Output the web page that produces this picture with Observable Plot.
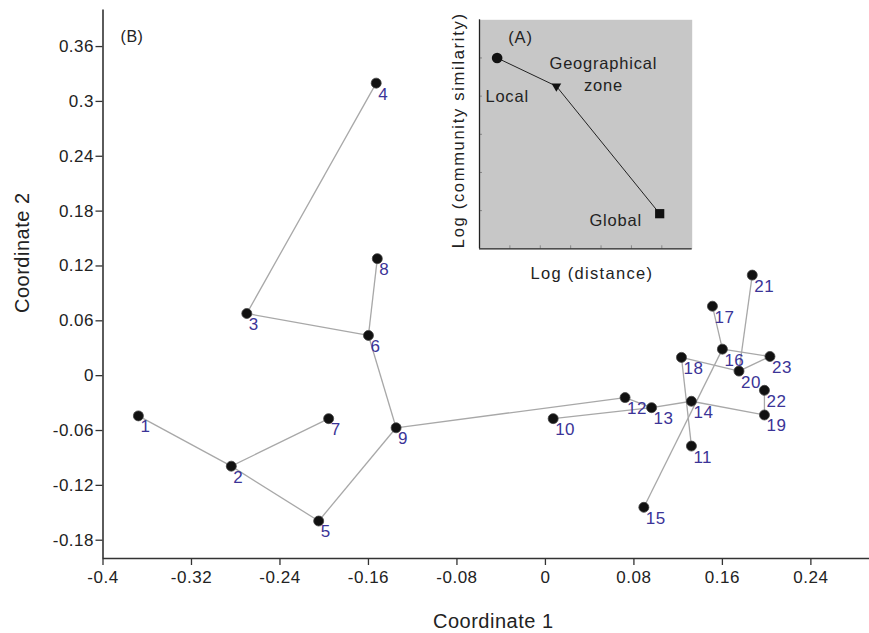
<!DOCTYPE html>
<html>
<head>
<meta charset="utf-8">
<script src="https://cdn.jsdelivr.net/npm/d3@7"></script>
<script src="https://cdn.jsdelivr.net/npm/@observablehq/plot@0.6"></script>
<style>
  html, body { margin: 0; padding: 0; background: #fff; }
  #wrap { position: relative; width: 869px; height: 633px; font-family: "Liberation Sans", Arial, sans-serif; }
  #inset { position: absolute; left: 445px; top: 0px; }
  svg { background: transparent; }
</style>
</head>
<body>
<div id="wrap"><div id="main"></div><div id="inset"></div></div>
<script>
// ---- Main ordination (B) ----
const siteIds = [1,2,3,4,5,6,7,8,9,10,11,12,13,14,15,16,17,18,19,20,21,22,23];
const coord1 = [-0.368,-0.284,-0.270,-0.153,-0.205,-0.160,-0.196,-0.152,-0.135,0.007,0.132,0.072,0.096,0.132,0.089,0.160,0.151,0.123,0.198,0.175,0.187,0.198,0.203];
const coord2 = [-0.044,-0.099,0.068,0.320,-0.159,0.044,-0.047,0.128,-0.057,-0.047,-0.077,-0.024,-0.035,-0.028,-0.144,0.029,0.076,0.020,-0.043,0.005,0.110,-0.016,0.021];
const edgeFrom = [1,2,2,5,9,6,3,6,9,12,10,13,14,19,18,15,16,16,23,20,20];
const edgeTo   = [2,7,5,9,6,3,4,8,12,13,13,14,19,22,11,16,17,23,20,18,21];
const xTicks = [-0.4,-0.32,-0.24,-0.16,-0.08,0,0.08,0.16,0.24];
const xTickLabels = ["-0.4","-0.32","-0.24","-0.16","-0.08","0","0.08","0.16","0.24"];
const yTicks = [-0.18,-0.12,-0.06,0,0.06,0.12,0.18,0.24,0.3,0.36];
const yTickLabels = ["-0.18","-0.12","-0.06","0","0.06","0.12","0.18","0.24","0.3","0.36"];

// ---- Inset (A) ----
const insetNames = ["Local","Geographical\nzone","Global"];
const insetDist = [0.58, 2.53, 5.93];
const insetSim = [5.0, 4.26, 0.92];
const insetShapes = ["circle","triangle","square"];
const insetXTicks = [1,2,3,4,5,6];
const insetYTicks = [1,2,3,4,5];

const sites = siteIds.map((id,i) => ({id, x: coord1[i], y: coord2[i]}));
const byId = new Map(sites.map(d => [d.id, d]));
const edges = edgeFrom.map((a,i) => ({a: byId.get(a), b: byId.get(edgeTo[i])}));

const font = "Liberation Sans, Arial, sans-serif";

const main = Plot.plot({
  width: 869, height: 633,
  marginLeft: 102.5, marginRight: 0, marginTop: 9.5, marginBottom: 75,
  style: {fontFamily: font, background: "#fff", color: "#222"},
  x: {domain: [-0.4, 0.293]},
  y: {domain: [-0.2, 0.4]},
  marks: [
    Plot.axisX({ticks: xTicks, tickFormat: (d,i) => xTickLabels[i], tickSize: 7, tickPadding: 5, fontSize: 17, label: null, stroke: "#333", fill: "#222", strokeWidth: 1.3}),
    Plot.axisY({ticks: yTicks, tickFormat: (d,i) => yTickLabels[i], tickSize: 7, tickPadding: 2, fontSize: 17, label: null, stroke: "#333", fill: "#222", strokeWidth: 1.3}),
    Plot.ruleY([-0.2], {stroke: "#333", strokeWidth: 1.6}),
    Plot.ruleX([-0.4], {stroke: "#333", strokeWidth: 1.6}),
    Plot.link(edges, {x1: d => d.a.x, y1: d => d.a.y, x2: d => d.b.x, y2: d => d.b.y, stroke: "#a8a8a8", strokeWidth: 1.3}),
    Plot.dot(sites, {x: "x", y: "y", r: 5, fill: "#111", stroke: "#444", strokeWidth: 0.8}),
    Plot.text(sites, {x: "x", y: "y", text: d => String(d.id), textAnchor: "start", dx: 2, dy: 11, fontSize: 17, fill: "#3b3497"}),
    Plot.text(["(B)"], {frameAnchor: "top-left", dx: 29, dy: 26.5, textAnchor: "middle", lineAnchor: "middle", fontSize: 16, fill: "#222"}),
    Plot.text(["Coordinate 1"], {frameAnchor: "bottom", dx: 7, dy: 63.5, textAnchor: "middle", lineAnchor: "middle", fontSize: 20, fill: "#222"}),
    Plot.text(["Coordinate 2"], {frameAnchor: "left", dx: -80, dy: -31.5, rotate: -90, textAnchor: "middle", lineAnchor: "middle", fontSize: 20, fill: "#222"})
  ]
});
main.querySelectorAll("text").forEach(t => t.style.letterSpacing = "0.5px");
document.getElementById("main").appendChild(main);

const insetData = insetNames.map((n,i) => ({name: n, x: insetDist[i], y: insetSim[i], shape: insetShapes[i], r: insetShapes[i] === "triangle" ? 3.6 : (insetShapes[i] === "square" ? 5.2 : 5.3)}));
const pick = n => insetData.filter(d => d.name === n);

const inset = Plot.plot({
  width: 255, height: 290,
  marginLeft: 34, marginRight: 8.3, marginTop: 19.3, marginBottom: 41.7,
  style: {fontFamily: font, background: "transparent", color: "#222"},
  x: {domain: [0, 7]},
  y: {domain: [0, 6]},
  symbol: {type: "identity"},
  r: {type: "identity"},
  marks: [
    Plot.frame({fill: "#c7c7c7", stroke: null}),
    Plot.axisX({ticks: insetXTicks, tickSize: -3, tickFormat: () => "", label: null, stroke: "#888"}),
    Plot.axisY({ticks: insetYTicks, tickSize: -3, tickFormat: () => "", label: null, stroke: "#888"}),
    Plot.ruleY([0], {stroke: "#222", strokeWidth: 1.3}),
    Plot.ruleX([0], {stroke: "#222", strokeWidth: 1.3}),
    Plot.line(insetData, {x: "x", y: "y", stroke: "#222", strokeWidth: 1}),
    Plot.dot(insetData, {x: "x", y: "y", symbol: "shape", r: "r", rotate: d => d.shape === "triangle" ? 180 : 0, fill: "#111"}),
    Plot.text(pick("Local"), {x: "x", y: "y", text: "name", dx: 10, dy: 38.5, fontSize: 16.5, fill: "#222"}),
    Plot.text(pick("Geographical\nzone"), {x: "x", y: "y", text: "name", dx: 47, dy: -13, fontSize: 16.5, lineHeight: 1.3, fill: "#222"}),
    Plot.text(pick("Global"), {x: "x", y: "y", text: "name", dx: -44, dy: 7.5, fontSize: 16.5, fill: "#222"}),
    Plot.text(["(A)"], {frameAnchor: "top-left", dx: 41, dy: 18, textAnchor: "middle", lineAnchor: "middle", fontSize: 16.5, fill: "#222"}),
    Plot.text(["Log (distance)"], {frameAnchor: "bottom", dx: 6, dy: 25, textAnchor: "middle", lineAnchor: "middle", fontSize: 16.5, fill: "#222"}),
    Plot.text(["Log (community similarity)"], {frameAnchor: "left", dx: -21, dy: -4, rotate: -90, textAnchor: "middle", lineAnchor: "middle", fontSize: 16.5, fill: "#222"})
  ]
});
inset.querySelectorAll("text").forEach(t => {
  const s = t.textContent;
  t.style.letterSpacing = s.startsWith("Log (community") ? "1.7px" : (s.startsWith("Log (distance") ? "1.3px" : "0.8px");
});
document.getElementById("inset").appendChild(inset);
</script>
</body>
</html>
